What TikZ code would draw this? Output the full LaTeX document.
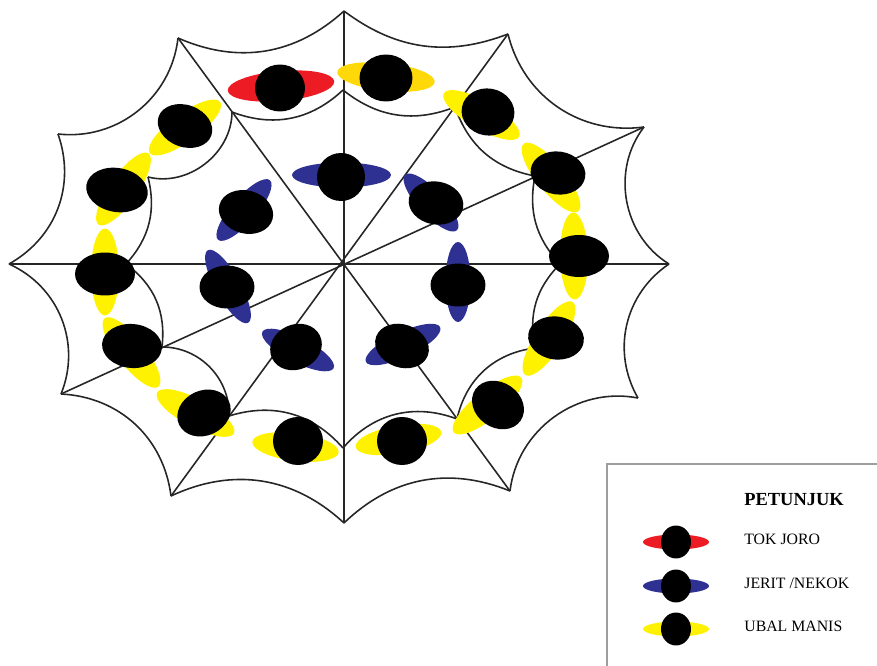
\documentclass[tikz,border=0pt]{standalone}
\usepackage{fontspec}
\setmainfont{Liberation Serif}
\usetikzlibrary{shapes.geometric}
\definecolor{webEdge}{HTML}{262626}
\definecolor{keyEdge}{HTML}{9E9E9E}
\definecolor{joroCol}{HTML}{ED1C24}
\definecolor{nekokCol}{HTML}{2E3192}
\definecolor{ubalCol}{HTML}{FFF200}
\definecolor{ubalGold}{HTML}{FFD80A}
\tikzset{
  web/.style={draw=webEdge, line width=0.9pt},
  wing/.style={ellipse, fill=#1, inner sep=0pt, minimum width=1.74cm, minimum height=0.56cm},
  head/.style={ellipse, fill=black, inner sep=0pt, minimum width=1.1cm, minimum height=0.86cm},
  keytext/.style={anchor=west, inner sep=0pt, font=\fontsize{9}{11}\selectfont},
}

\begin{document}
\begin{tikzpicture}[x=0.02cm, y=-0.02cm]
  \useasboundingbox (0,0) rectangle (877,666);
  % outer frame of the web
  \coordinate (o1) at (344,11);
  \coordinate (o2) at (508,34);
  \coordinate (o3) at (644,127);
  \coordinate (o4) at (669,264);
  \coordinate (o5) at (638,398);
  \coordinate (o6) at (510,491);
  \coordinate (o7) at (344,523);
  \coordinate (o8) at (171,496);
  \coordinate (o9) at (61,394);
  \coordinate (o10) at (9,264);
  \coordinate (o11) at (58,134);
  \coordinate (o12) at (178,38);
  % inner ring
  \coordinate (i1) at (343,90);
  \coordinate (i2) at (455,107);
  \coordinate (i3) at (535,176);
  \coordinate (i4) at (560,264);
  \coordinate (i5) at (535,348);
  \coordinate (i6) at (457,419);
  \coordinate (i7) at (343,448);
  \coordinate (i8) at (229,416);
  \coordinate (i9) at (162,347);
  \coordinate (i10) at (126,264);
  \coordinate (i11) at (148,177);
  \coordinate (i12) at (232,112);
  \foreach \a/\b in {o1/o7,o4/o10,o12/o6,o2/o8,o3/o9}
    \draw[web] (\a) -- (\b);
  \foreach \a/\b/\t in {o1/o2/29,o2/o3/42,o3/o4/48,o4/o5/43,o5/o6/47,o6/o7/33,
                        o7/o8/34,o8/o9/40,o9/o10/44,o10/o11/40,o11/o12/45,o12/o1/33}
    \draw[web] (\a) to[bend right=\t] (\b);
  \foreach \a/\b/\t in {i1/i2/30,i2/i3/30,i3/i4/27,i4/i5/28,i5/i6/35,i6/i7/35,
                        i7/i8/33,i8/i9/46,i9/i10/30,i10/i11/28,i11/i12/52,i12/i1/32}
    \draw[web] (\a) to[bend right=\t] (\b);

  % outer circle of dancers
  \node[wing=joroCol, rotate=5, minimum width=2.14cm, minimum height=0.6cm] (jw) at (281,86) {};
  \node[head, minimum width=1cm, minimum height=0.94cm] (jh) at (280,88) {};
  \node[wing=ubalGold, rotate=-6, minimum width=1.96cm] (gw) at (386,77) {};
  \node[head, minimum width=1.06cm, minimum height=0.94cm] (gh) at (386,78) {};
  \foreach \wx/\wy/\wa/\hx/\hy/\ha/\hw/\hh [count=\i] in {
      481.5/115/-30/488/112/-10/53/47, 551/177.5/-51/558/173/-8/55/43,
      574/256/91/579/256/0/60/42, 549/338.5/57/556/338/-8/56/43,
      487.5/405/39/498/405/-35/55/45, 398.5/439.5/10/402/441/0/50/48,
      295.5/447/-7/298/441/0/50/48, 195.5/413/-28/204/413/25/55/45,
      131.5/352.5/-52/132/346/-5/60/44, 105/272/90/105/274/0/60/43,
      123.5/189/55/117/190/-10/62/44, 185/127.5/36/185/126/-20/56/42}
  {
    \node[wing=ubalCol, rotate=\wa] (uw\i) at (\wx,\wy) {};
    \node[head, rotate=\ha, minimum width=\hw*0.2mm, minimum height=\hh*0.2mm] (uh\i) at (\hx,\hy) {};
  }
  % inner circle of dancers
  \foreach \wx/\wy/\wa/\wl/\hx/\hy/\ha/\hw/\hh [count=\i] in {
      341.5/175/0/99/341/177/0/48/48, 244/210/49/79/246/212/-15/55/43,
      431/202.5/-47/76/436/203/-10/55/43, 228/286.5/-61/83/227/287/0/55/43,
      458/282/90/80/458/285/0/55/43, 298/350/-27/80/296/347/25/53/45,
      403/344.5/25/82/402/346/-20/55/43}
  {
    \node[wing=nekokCol, rotate=\wa, minimum width=\wl*0.2mm, minimum height=0.5cm] (nw\i) at (\wx,\wy) {};
    \node[head, rotate=\ha, minimum width=\hw*0.2mm, minimum height=\hh*0.2mm] (nh\i) at (\hx,\hy) {};
  }

  % legend
  \draw[keyEdge, line width=0.6pt] (607,666) |- (877,464);
  \node[keytext, font=\fontsize{10.5}{12}\selectfont\bfseries] (kTitle) at (744,500) {PETUNJUK};
  \foreach \c/\y/\t [count=\i] in {joroCol/542/{TOK JORO}, nekokCol/586/{JERIT /NEKOK}, ubalCol/629/{UBAL MANIS}}
  {
    \node[wing=\c, minimum width=1.32cm, minimum height=0.3cm] (kw\i) at (676,\y) {};
    \node[head, minimum width=0.6cm, minimum height=0.66cm] (kh\i) at (kw\i) {};
    \node[keytext] (kt\i) at (744,\y-3) {\t};
  }
\end{tikzpicture}
\end{document}
